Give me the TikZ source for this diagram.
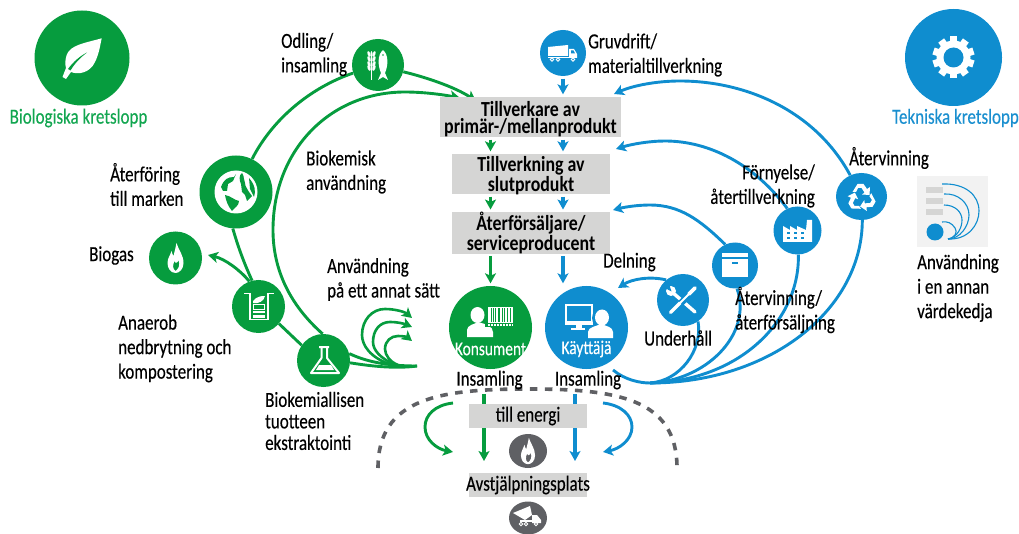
\documentclass[tikz,border=0pt]{standalone}
\usepackage{fontspec}
\setmainfont[FakeStretch=0.79,FakeBold=0.25,BoldFeatures={FakeStretch=0.83,FakeBold=0}]{Carlito}
\usetikzlibrary{arrows.meta,shapes.geometric}
\definecolor{gr}{HTML}{069C3E}
\definecolor{bl}{HTML}{0F8DCF}
\definecolor{tgr}{HTML}{12A650}
\definecolor{tbl}{HTML}{1A8FCF}
\definecolor{bx}{HTML}{D5D5D4}
\definecolor{dk}{HTML}{5F6064}
\newcommand{\dn}[1]{\raisebox{-2pt}[\height][\depth]{#1}}
\pgfdeclarelayer{bg}\pgfdeclarelayer{base}
\pgfsetlayers{base,bg,main}
\tikzset{
 lab/.style={inner sep=0pt,align=left,text=black,font=\fontsize{21.5}{24.5}\selectfont},
 labr/.style={lab,align=right,anchor=east},
 labw/.style={lab,anchor=west},
 head/.style={fill=bx,inner sep=0pt,align=center,font=\fontsize{21.5}{16.5}\bfseries\selectfont},
 gc/.style={circle,fill=gr,inner sep=0pt},
 bc/.style={circle,fill=bl,inner sep=0pt},
 dc/.style={ellipse,fill=dk,inner sep=0pt},
 gl/.style={gr,line width=2.9pt},
 bl1/.style={bl,line width=2.9pt},
 ga/.style={gl,-{Stealth[length=10pt,width=11pt,inset=2.5pt]}},
 ba/.style={bl1,-{Stealth[length=10pt,width=11pt,inset=2.5pt]}},
 vert/.style={line width=3.6pt},
 gap/.style={shorten <=2.5pt,shorten >=2.5pt},
 ic/.style={fill=white,draw=none},
 flameicon/.pic={
  \path[fill=white,even odd rule]
   (1,-15) .. controls (3,-8) and (8,-3) .. (8,5) .. controls (8,11) and (4,15) .. (0,15)
   .. controls (-5,15) and (-8,10) .. (-8,5) .. controls (-8,0) and (-5,-3) .. (-4,-7)
   .. controls (-3,-4) and (-3,-3) .. (-2,-2) .. controls (-1,-6) and (0,-10) .. (1,-15) -- cycle
   (0,13) .. controls (-3,11) and (-3,7) .. (-1,3) .. controls (0,6) and (2,5) .. (3,2)
   .. controls (5,7) and (3,11) .. (0,13) -- cycle;
 }
}
\begin{document}
\begin{tikzpicture}[x=1pt,y=-1pt]
\useasboundingbox (0,0) rectangle (1019,534);
% circles
\node[gc,minimum size=95pt] (bio) at (82,58) {};
\node[bc,minimum size=97pt] (tek) at (953.5,57.5) {};
\node[gc,minimum size=52pt] (odl) at (378,65) {};
\node[gc,minimum size=73pt] (glo) at (236,192) {};
\node[gc,minimum size=53pt] (bgs) at (175.5,258) {};
\node[gc,minimum size=53pt] (ana) at (258.5,306.5) {};
\node[gc,minimum size=53pt] (fla) at (323.5,360.5) {};
\node[gc,minimum size=83pt] (kon) at (490.5,327.5) {};
\node[bc,minimum size=83pt] (kay) at (586.5,327.5) {};
\node[bc,minimum size=52pt] (wre) at (683,300) {};
\node[bc,minimum size=46pt] (box) at (735,265.5) {};
\node[bc,minimum size=48pt] (fac) at (797.5,230.5) {};
\node[bc,ellipse,minimum width=51pt,minimum height=47pt] (rec) at (861.5,196.5) {};
\node[bc,minimum size=46pt] (tru) at (563,53) {};
\node[dc,minimum width=38pt,minimum height=34pt] (dfl) at (528,451) {};
\node[dc,minimum width=38pt,minimum height=33pt] (dtr) at (528,518) {};
% grey boxes
\node[head,minimum width=181pt,minimum height=40pt] (b1) at (530.5,117) {\dn{Tillverkare av}\\\dn{primär-/mellanprodukt}};
\node[head,minimum width=158pt,minimum height=40pt] (b2) at (531,174) {\dn{Tillverkning av}\\\dn{slutprodukt}};
\node[head,minimum width=158pt,minimum height=40pt] (b3) at (531,233) {Återförsäljare/\\serviceproducent};
\node[fill=bx,inner sep=0pt,minimum width=118pt,minimum height=24pt,lab,align=center] (b4) at (528,416) {till energi};
\node[fill=bx,inner sep=0pt,minimum width=118pt,minimum height=24pt] (b5) at (528,485) {};
\node[lab,align=center] (t5) at (528,485) {Avstjälpningsplats};
% free points
\coordinate (ib1) at (476,101);
\coordinate (ib2) at (460,98);
\coordinate (r1) at (614,94);
\coordinate (r2) at (616,149);
\coordinate (r3) at (613,210);
\coordinate (kk) at (618,288);
\coordinate (fanbase) at (650,383);
\coordinate (kst) at (613,370);
\coordinate (biot) at (208,255);
\coordinate (wv) at (417,366);
\coordinate (w1) at (412,318);
\coordinate (w2) at (412,327);
\coordinate (w3) at (412,341);
\coordinate (gs1) at (484,394);
\coordinate (gs2) at (484,461);
\coordinate (bs1) at (575,394);
\coordinate (bs2) at (575,461);
\coordinate (la) at (453,403);
\coordinate (lb) at (453,452);
\coordinate (ra) at (603,403);
\coordinate (rb) at (603,452);
\coordinate (dA) at (378,468);
\coordinate (dB) at (677,468);
\begin{pgfonlayer}{bg}
% green connectors
\draw[gl] (odl.198) .. controls (312,87) and (273,118) .. (glo.64);
\draw[ga] (odl.-15) .. controls (425,77) and (455,87) .. (ib1);
\draw[ga] (fla.92) .. controls (290,305) and (273,270) .. (273,230) .. controls (273,150) and (330,92) .. (405,92) .. controls (425,92) and (445,95) .. (ib2);
\draw[gl] (glo.-95) .. controls (239,250) and (245,265) .. (ana.104);
\draw[ga] (ana.110) .. controls (240,270) and (225,259) .. (biot);
\draw[gl] (ana.-40) -- (fla.145);
\draw[gl] (fla.15) .. controls (365,361) and (385,366) .. (wv);
\draw[gl] (fla.-5) .. controls (370,366) and (395,369) .. (wv);
\draw[ga,line width=2.6pt] (392,365) .. controls (370,358) and (362,345) .. (362,335) .. controls (362,320) and (372,309) .. (385,309) .. controls (395,309) and (405,312) .. (w1);
\draw[ga,line width=2.6pt] (395,365) .. controls (380,358) and (373,350) .. (373,342) .. controls (373,330) and (380,322) .. (390,322) .. controls (398,322) and (405,324) .. (w2);
\draw[ga,line width=2.6pt] (398,365) .. controls (390,362) and (385,355) .. (385,349) .. controls (385,341) and (391,336) .. (398,336) .. controls (403,336) and (407,337) .. (w3);
\draw[ga,gap,vert] (b1.south -| kon) -- (b2.north -| kon);
\draw[ga,gap,vert] (b2.south -| kon) -- (b3.north -| kon);
\draw[ga,gap,vert] (b3.south -| kon) -- (kon.north);
\draw[ga,vert] (gs1) -- (gs2);
\draw[ga] (la) .. controls (435,405) and (425,415) .. (425,427) .. controls (425,440) and (437,449) .. (lb);
% blue connectors
\draw[ba,gap,vert] (tru.south) -- (b1.north -| tru);
\draw[ba,gap,vert] (b1.south -| tru) -- (b2.north -| tru);
\draw[ba,gap,vert] (b2.south -| tru) -- (b3.north -| tru);
\draw[ba,gap,vert] (b3.south -| tru) -- (kay.north -| tru);
\draw[ba] (rec.118) .. controls (815,110) and (745,81) .. (680,81) .. controls (655,81) and (632,86) .. (r1);
\draw[ba] (fac.115) .. controls (755,165) and (710,141) .. (665,141) .. controls (650,141) and (632,144) .. (r2);
\draw[ba] (box.115) .. controls (700,220) and (680,205) .. (650,205) .. controls (638,205) and (625,207) .. (r3);
\draw[ba] (wre.130) .. controls (650,276) and (632,279) .. (kk);
\draw[bl1] (kst) .. controls (625,380) and (640,383) .. (fanbase);
\draw[bl1] (wre.-55) .. controls (703,350) and (680,381) .. (fanbase);
\draw[bl1] (box.-85) .. controls (753,335) and (705,381) .. (fanbase);
\draw[bl1] (fac.-88) .. controls (800,320) and (740,381) .. (fanbase);
\draw[bl1] (rec.-88) .. controls (862,310) and (770,383) .. (fanbase);
\draw[ba,vert] (bs1) -- (bs2);
\draw[ba] (ra) .. controls (621,405) and (632,415) .. (632,427) .. controls (632,440) and (619,449) .. (rb);
% dashed arch
\draw[dk,line width=3.6pt,dash pattern=on 7.5pt off 7.5pt] (dA) .. controls (378,398) and (440,389) .. (528,389) .. controls (616,389) and (677,398) .. (dB);
\end{pgfonlayer}
% labels
\node[lab,text=tgr] (tbio) at (78.5,118) {Biologiska kretslopp};
\node[lab,text=tbl] (ttek) at (955.5,118) {Tekniska kretslopp};
\node[labw] (lo) at (281,54.5) {Odling/\\insamling};
\node[labw] (lg) at (588,55) {Gruvdrift/\\materialtillverkning};
\node[labw] (la1) at (110,184.5) {Återföring\\till marken};
\node[labw] (lb1) at (89,255.5) {Biogas};
\node[labw] (lb2) at (306,172) {Biokemisk\\användning};
\node[labw] (la2) at (327,279.5) {Användning\\på ett annat sätt};
\node[labw] (la3) at (118,348.5) {Anaerob\\nedbrytning och\\kompostering};
\node[labw,font=\fontsize{21.5}{21.5}\selectfont] (lb3) at (265,421) {Biokemiallisen\\tuotteen\\ekstraktointi};
\node[lab] (i1) at (489.5,380) {Insamling};
\node[lab] (i2) at (588,380) {Insamling};
\node[labw] (ld) at (603,262) {Delning};
\node[labw] (lu) at (644,338) {Underhåll};
\node[labw] (la4) at (735,310) {Återvinning/\\återförsäljning};
\node[labr] (lf) at (815,186) {Förnyelse/\\återtillverkning};
\node[labw] (la5) at (849,158) {Återvinning};
\node[labw] (la6) at (917,288) {Användning\\i en annan\\värdekedja};
\node[lab,text=white,font=\fontsize{19.5}{20}\selectfont] (lk) at (490.5,349) {Konsument};
\node[lab,text=white,font=\fontsize{19.5}{20}\selectfont] (lky) at (586.5,349) {Käyttäjä};
% inset
\path[fill=black!5] (917,176) rectangle (988,247);
\foreach \yy in {187,198,209} \fill[bx] (926,\yy) rectangle (943,\yy+6);
\fill[bl] (935,232) circle (8.5pt);
\begin{scope}[bl,line width=1.1pt]
\draw (948,239) .. controls (968,240) and (979,225) .. (979,211) .. controls (979,195) and (965,183) .. (942,184);
\draw (948,239) .. controls (960,239) and (969,226) .. (969,215) .. controls (969,203) and (958,193) .. (944,194);
\draw (948,239) .. controls (958,237) and (962,227) .. (962,220) .. controls (962,212) and (955,205) .. (944,205);
\draw (948,239) .. controls (955,238) and (958,232) .. (955,228) .. controls (952,223) and (947,221) .. (942,222);
\end{scope}
% ICONS
% leaf
\path[ic] (101.7,38.3) .. controls (85,43) and (70,45) .. (66.7,55) .. controls (65,60) and (65,64) .. (66,68) -- (62.5,77) -- (66,79) -- (71,72) .. controls (78,75) and (90,73) .. (95,62) .. controls (99,54) and (100,46) .. (101.7,38.3) -- cycle;
\path[fill=gr] (68,69) .. controls (73,62) and (80,56) .. (87,52.5) .. controls (80,58) and (75,63) .. (70.5,70.5) -- cycle;
% gear
\begin{scope}[shift={(953.5,57.5)}]
\fill[white] (0,0) circle (17pt);
\foreach \a in {0,36,...,324} \fill[white,rotate=\a] (-3.6,-21) rectangle (3.6,-14);
\fill[bl] (0,0) circle (10pt);
\end{scope}
% wheat + fish
\begin{scope}[white]
\draw[line width=1pt] (371.5,52) -- (371.5,80);
\foreach \yy in {54,59,64,68} {\fill (371.5,\yy) ellipse (1pt and 2.8pt);
 \fill[rotate around={20:(369,\yy)}] (369,\yy) ellipse (1.4pt and 3pt);
 \fill[rotate around={-20:(374,\yy)}] (374,\yy) ellipse (1.4pt and 3pt);}
\fill (383,50) .. controls (377,55) and (378,66) .. (381,73) -- (378,80) -- (383,77) -- (388,80) -- (385,73) .. controls (388,66) and (389,55) .. (383,50) -- cycle;
\fill[gr] (383,55) circle (0.9pt);
\end{scope}
% globe
\begin{scope}[shift={(236,192)}]
\fill[white] (0,0) circle (21.5pt);
\fill[gr] (-15,-5) .. controls (-12,-13) and (-8,-15) .. (-2,-15) -- (0,-18) -- (-3,-11) -- (-8,-8) -- (-9,-1) -- (-13,-1) -- cycle;
\fill[gr] (-11,3) .. controls (-5,4) and (-2,8) .. (3,9) .. controls (3,14) and (-2,16) .. (-4,19) .. controls (-8,14) and (-10,9) .. (-11,3) -- cycle;
\fill[gr] (6,-19) .. controls (9,-15) and (7,-12) .. (9,-9) .. controls (9,-5) and (12,-3) .. (13,0) -- (16,4) -- (11,9) -- (9,3) -- (6,0) -- (5,-8) .. controls (3,-12) and (3,-17) .. (6,-19) -- cycle;
\fill[gr] (13,-14) .. controls (19,-7) and (20,-1) .. (18,5) -- (14,-3) -- cycle;
\end{scope}
% flames
\pic[scale=1] at (175.5,258) {flameicon};
\pic[scale=0.88] at (528,451) {flameicon};
% tank
\begin{scope}[white]
\draw[line width=1.6pt] (244,293.5) -- (250,293.5) -- (250,319.5) -- (268,319.5) -- (268,293.5) -- (274,293.5);
\fill (253,301) .. controls (257,296) and (262,296) .. (265,296) .. controls (264,301) and (259,304) .. (253,303) -- cycle;
\draw[line width=0.8pt] (253,304) rectangle (264,309);
\fill (253,311) rectangle (265,313);
\fill (253,315) rectangle (265,317.5);
\end{scope}
% flask
\begin{scope}[white]
\draw[line width=2pt,line join=round] (319,347) -- (329,347) (321.5,347) -- (321.5,358) -- (311,373) -- (339,373) -- (327,358) -- (327,347);
\fill (316,370) -- (319,365) -- (331,365) -- (334,370) -- cycle;
\end{scope}
% konsument icon
\begin{scope}
\fill[white] (477.5,315) ellipse (7pt and 8pt);
\fill[white] (467,337) -- (467,330) .. controls (467,325) and (475,324) .. (478,322) .. controls (485,324) and (493,326) .. (493,332) -- (493,337) -- cycle;
\fill[gr] (485,305) rectangle (515,327);
\fill[white] (488,307) rectangle (513,323);
\foreach \xx/\w in {490.5/1.2,493/0.6,495/0.9,498/1.8,502/0.7,504/1.2,507/0.7,509.5/1} \fill[gr] (\xx,308) rectangle (\xx+\w,322);
\fill[white] (488,324) rectangle (513,325.5);
\foreach \xx in {490,493,...,511} \fill[gr] (\xx,324) rectangle (\xx+1,325.6);
\end{scope}
% kayttaja icon
\begin{scope}
\fill[white] (565,304) rectangle (593,325);
\fill[bl] (567,306) rectangle (591,321);
\fill[white] (576,325) rectangle (582,328);
\fill[white] (571,328) rectangle (587,330);
\fill[bl] (602,318) circle (10pt);
\fill[white] (602,317.5) ellipse (7pt and 8pt);
\fill[bl] (585,326) rectangle (615,340);
\fill[white] (588,338) -- (588,332) .. controls (588,327) and (597,326) .. (601,324) .. controls (606,326) and (613,327) .. (613,332) -- (613,338) -- cycle;
\end{scope}
% wrench and screwdriver
\begin{scope}[white,line cap=round]
\draw[line width=3.4pt] (672,292) -- (695,312);
\fill (671,291) circle (5pt);
\fill[bl] (671.5,291.5) -- (669,284) -- (664,287.5) -- cycle;
\draw[bl,line width=6.5pt,line cap=butt] (672,312) -- (692,292);
\draw[line width=3.2pt] (670.5,312.5) -- (680,303);
\draw[line width=1.8pt] (680,303) -- (692,291);
\draw[line width=3.6pt] (689,294) -- (695,288);
\end{scope}
% box icon
\begin{scope}[white]
\fill (722,253) rectangle (748,257);
\fill (722,259) rectangle (748,277);
\fill[bl] (732,262) rectangle (738,264);
\end{scope}
% factory
\begin{scope}
\fill[white] (783,242) -- (783,226) -- (790,230) -- (790,226) -- (797,230) -- (797,226) -- (806,230) -- (807,220) -- (812,220) -- (812,242) -- cycle;
\foreach \xx in {787,794,801} \foreach \yy in {232,237} \fill[bl] (\xx,\yy) rectangle (\xx+2.5,\yy+2.5);
\end{scope}
% recycling
\begin{scope}[shift={(861.5,198)}]
\foreach \a in {0,120,240} {
 \begin{scope}[rotate=\a]
 \fill[white] (-9,-6) -- (-4,-14) -- (2,-14) -- (5.5,-9) -- (8.5,-11) -- (8,-3) -- (0.5,-3.5) -- (3,-5.5) -- (0,-10) -- (-3.5,-10) -- (-5.5,-6) -- cycle;
 \end{scope}}
\end{scope}
% trucks
\begin{scope}[white]
\fill (548,47) -- (568,45) -- (568,56) -- (548,56) -- cycle;
\fill (569,49) -- (574,49) -- (577,54) -- (577,58) -- (569,58) -- cycle;
\fill (548,57) rectangle (577,58);
\fill[bl] (571,50.5) -- (573.5,50.5) -- (575,53.5) -- (571,53.5) -- cycle;
\draw[line width=.8pt] (552,59.5) circle (1.8pt) (558,59.5) circle (1.8pt) (573,59.5) circle (1.8pt);
\fill (513,513) -- (530,506) -- (532,515) -- (525,520) -- cycle;
\fill (532,515) -- (537,515) -- (541,520) -- (541,523) -- (532,523) -- cycle;
\fill (520,520) rectangle (541,522);
\draw[line width=.8pt] (521,524) circle (1.7pt) (526,524) circle (1.7pt) (536,524) circle (1.7pt);
\end{scope}
\end{tikzpicture}
\end{document}
